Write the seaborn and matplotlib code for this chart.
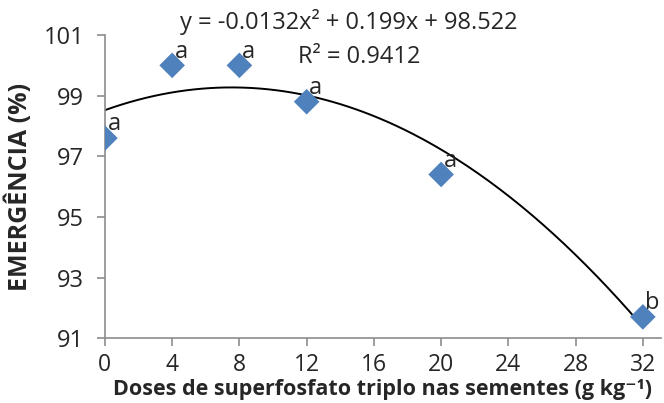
import matplotlib
matplotlib.use("Agg")
import matplotlib.pyplot as plt
import seaborn as sns
import numpy as np
import pandas as pd

doses = [0, 4, 8, 12, 20, 32]
emergencia = [97.6, 100.0, 100.0, 98.8, 96.4, 91.7]
letras = ["a", "a", "a", "a", "a", "b"]
coef = [-0.0132, 0.199, 98.522]

sns.set_style("white")
plt.rcParams['font.family'] = ['Open Sans', 'DejaVu Sans']

df = pd.DataFrame({"dose": doses, "emerg": emergencia})
xs = np.linspace(0, 32, 200)
curve = pd.DataFrame({"dose": xs, "emerg": np.polyval(coef, xs)})

fig = plt.figure(figsize=(6.64, 4.03), dpi=100)
ax = fig.add_axes([0.158, 0.161, 0.838, 0.752])

sns.lineplot(data=curve, x="dose", y="emerg", color="black", lw=1.4, ax=ax)
sns.scatterplot(data=df, x="dose", y="emerg", marker="D", s=170, color="#4F81BD",
                edgecolor="none", ax=ax, zorder=3)

for x, y, l in zip(doses, emergencia, letras):
    ax.text(x + 0.15, y + 0.45, l, fontsize=17, ha="left", va="center")

ax.text(4.46, 101.43, "y = -0.0132x² + 0.199x + 98.522", fontsize=17, ha="left", va="center")
ax.text(11.5, 100.27, "R² = 0.9412", fontsize=17, ha="left", va="center")

ax.set_xlim(0, 33.1)
ax.set_ylim(91, 101)
ax.set_xticks(range(0, 33, 4))
ax.set_yticks(range(91, 102, 2))
ax.tick_params(axis="both", labelsize=17, direction="out", length=6, color="#8c8c8c",
               bottom=True, left=True, width=1.2)
ax.tick_params(axis="x", pad=5, labelsize=16.5)
ax.tick_params(axis="y", pad=9)
for s in ["top", "right"]:
    ax.spines[s].set_visible(False)
for s in ["left", "bottom"]:
    ax.spines[s].set_color("#8c8c8c")
    ax.spines[s].set_linewidth(1.2)

ax.set_xlabel("Doses de superfosfato triplo nas sementes (g kg⁻¹)", fontsize=15.5,
              fontweight="bold")
ax.xaxis.set_label_coords(0.498, -0.134)
ax.set_ylabel("EMERGÊNCIA (%)", fontsize=18, fontweight="bold")
ax.yaxis.set_label_coords(-0.13, 0.498)

fig.savefig("out.png", dpi=100)
